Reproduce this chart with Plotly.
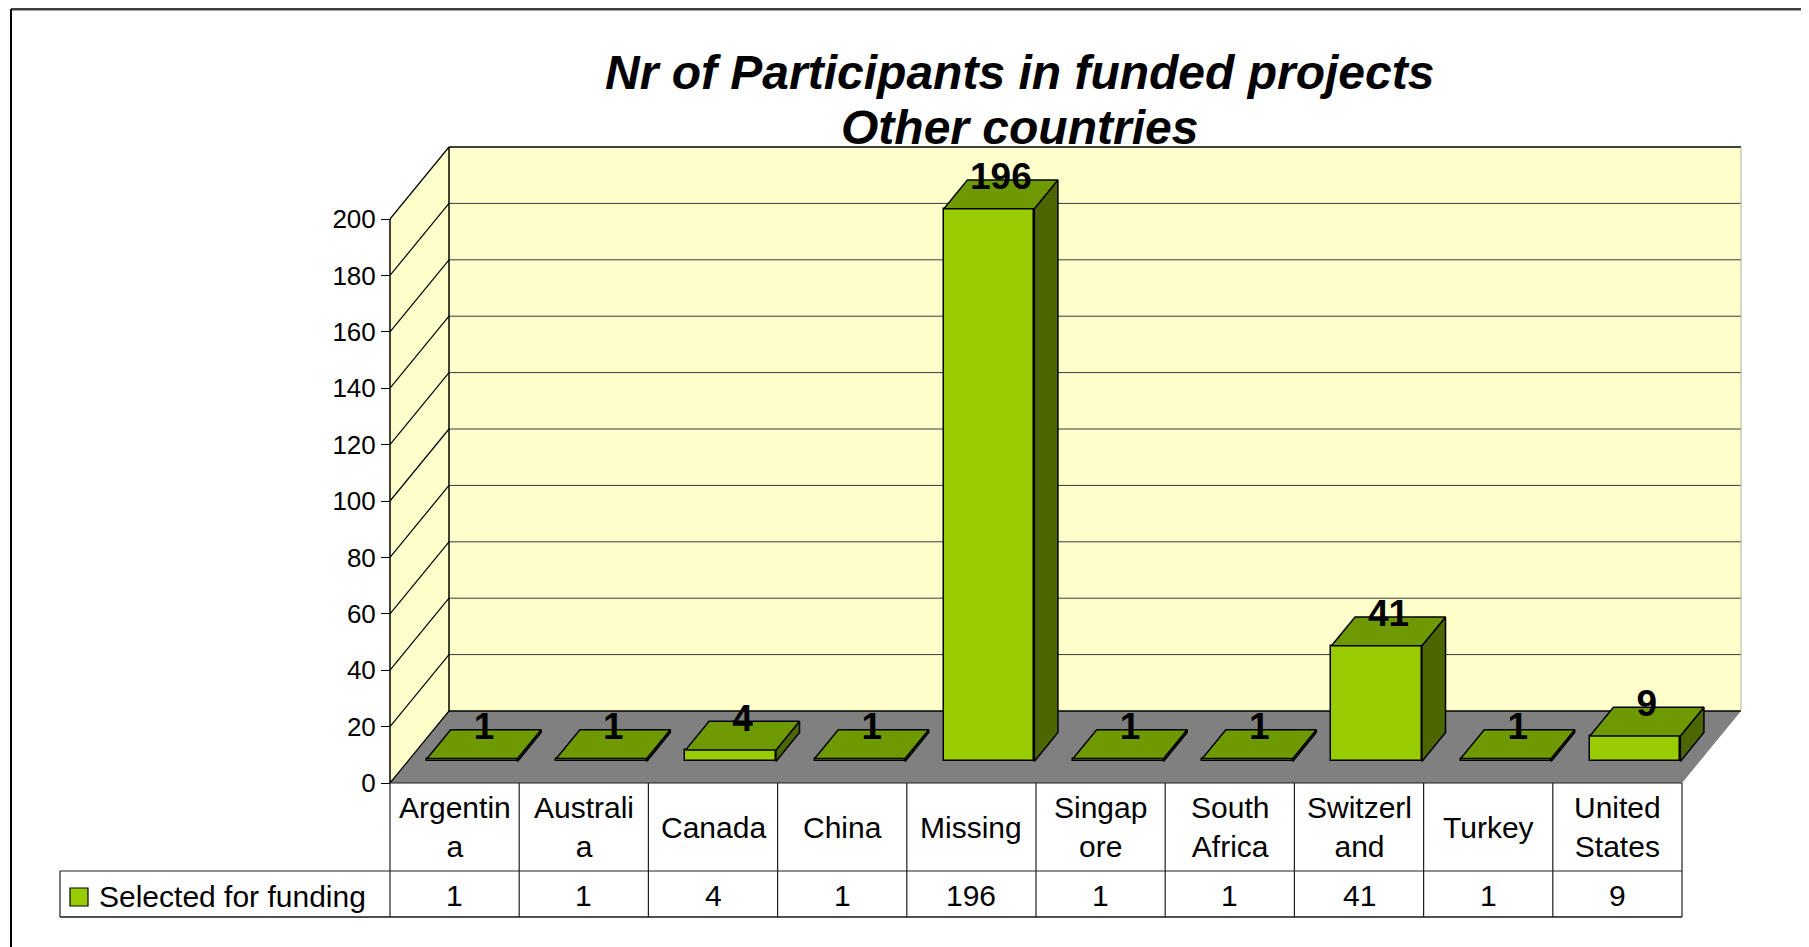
import plotly.graph_objects as go

# ---------------- data ----------------
categories = ["Argentin<br>a", "Australi<br>a", "Canada", "China", "Missing",
              "Singap<br>ore", "South<br>Africa", "Switzerl<br>and", "Turkey", "United<br>States"]
values = [1, 1, 4, 1, 196, 1, 1, 41, 1, 9]
series_name = "Selected for funding"
y_ticks = [0, 20, 40, 60, 80, 100, 120, 140, 160, 180, 200]
title_lines = ["Nr of Participants in funded projects", "Other countries"]

# ---------------- geometry / style ----------------
SCREEN_W, SCREEN_H = 1809, 947
OFF = 8                              # page body margin of the html page
W, H = SCREEN_W - OFF, SCREEN_H - OFF
ORIGIN_X, ORIGIN_Y = 390 - OFF, 783 - OFF   # pixel position of (category edge 0, value 0)
CAT_PX = 129.2                      # pixels per category
UNIT_PX = 2.82                      # pixels per value unit
DEPTH_X_PX, DEPTH_Y_PX = 59, 72     # 3D depth offset of back wall
DX = DEPTH_X_PX / CAT_PX
DY = DEPTH_Y_PX / UNIT_PX
F1, F2 = 0.30, 0.70                 # bar front / back depth fractions
BAR_W = 0.70
n = len(values)
WALL_TOP = max(y_ticks)

FRONT = "#99CC00"
TOP = "#6F9900"
SIDE = "#4C6600"
WALL = "#FFFFCC"
FLOOR = "#808080"
FONT = "Liberation Sans, Arial, sans-serif"

x_range = [-ORIGIN_X / CAT_PX, (W - ORIGIN_X) / CAT_PX]
y_range = [-(H - ORIGIN_Y) / UNIT_PX, ORIGIN_Y / UNIT_PX]


def py(p):
    """screen pixel y -> paper y"""
    return 1 - (p - OFF) / H


def pxp(p):
    """screen pixel x -> paper x"""
    return (p - OFF) / W


shapes = []
# side wall
shapes.append(dict(type="path", xref="x", yref="y", layer="below",
                   path=f"M 0,0 L {DX},{DY} L {DX},{WALL_TOP + DY} L 0,{WALL_TOP} Z",
                   fillcolor=WALL, line=dict(width=0)))
# back wall
shapes.append(dict(type="rect", xref="x", yref="y", layer="below",
                   x0=DX, y0=DY, x1=n + DX, y1=WALL_TOP + DY,
                   fillcolor=WALL, line=dict(width=0)))
# floor
shapes.append(dict(type="path", xref="x", yref="y", layer="below",
                   path=f"M 0,0 L {DX},{DY} L {n + DX},{DY} L {n},0 Z",
                   fillcolor=FLOOR, line=dict(width=0)))
# back wall gridlines
for v in y_ticks[1:-1]:
    shapes.append(dict(type="line", xref="x", yref="y", layer="below",
                       x0=DX, y0=v + DY, x1=n + DX, y1=v + DY,
                       line=dict(color="#3a3a3a", width=1)))
# side wall diagonals
for v in y_ticks:
    shapes.append(dict(type="line", xref="x", yref="y", layer="below",
                       x0=0, y0=v, x1=DX, y1=v + DY,
                       line=dict(color="black", width=1.2)))
# wall / floor edges
edge = dict(color="black", width=1.5)
shapes += [
    dict(type="line", xref="x", yref="y", layer="below", x0=DX, y0=WALL_TOP + DY, x1=n + DX, y1=WALL_TOP + DY, line=edge),
    dict(type="line", xref="x", yref="y", layer="below", x0=DX, y0=DY, x1=DX, y1=WALL_TOP + DY, line=edge),
    dict(type="line", xref="x", yref="y", layer="below", x0=DX, y0=DY, x1=n + DX, y1=DY, line=edge),
    dict(type="line", xref="x", yref="y", layer="below", x0=n + DX, y0=DY, x1=n + DX, y1=WALL_TOP + DY,
         line=dict(color="#b0b0a0", width=1)),
    dict(type="line", xref="x", yref="y", layer="below", x0=0, y0=0, x1=0, y1=WALL_TOP, line=edge),
]

# ---------------- data table ----------------
ROW1_TOP, ROW2_TOP, ROW2_BOT = 783, 871, 917
LEG_LEFT = 60
TABLE_RIGHT = 390 + n * CAT_PX
tline = dict(color="#202020", width=1.2)
shapes.append(dict(type="line", xref="x", yref="paper", x0=0, x1=n, y0=py(ROW1_TOP), y1=py(ROW1_TOP), line=tline))
shapes.append(dict(type="line", xref="paper", yref="paper", x0=pxp(LEG_LEFT), x1=pxp(TABLE_RIGHT),
                   y0=py(ROW2_TOP), y1=py(ROW2_TOP), line=tline))
shapes.append(dict(type="line", xref="paper", yref="paper", x0=pxp(LEG_LEFT), x1=pxp(TABLE_RIGHT),
                   y0=py(ROW2_BOT), y1=py(ROW2_BOT), line=dict(color="#505050", width=2)))
shapes.append(dict(type="line", xref="paper", yref="paper", x0=pxp(LEG_LEFT), x1=pxp(LEG_LEFT),
                   y0=py(ROW2_TOP), y1=py(ROW2_BOT), line=tline))
for k in range(n + 1):
    shapes.append(dict(type="line", xref="x", yref="paper", x0=k, x1=k,
                       y0=py(ROW1_TOP), y1=py(ROW2_BOT), line=tline))
# legend key
shapes.append(dict(type="rect", xref="paper", yref="paper",
                   x0=pxp(70), x1=pxp(88), y0=py(906), y1=py(888),
                   fillcolor=FRONT, line=dict(color="black", width=1.2)))
# outer chart border (top and left)
shapes.append(dict(type="line", xref="paper", yref="paper", x0=pxp(11), x1=1, y0=py(9), y1=py(9),
                   line=dict(color="#404040", width=3)))
shapes.append(dict(type="line", xref="paper", yref="paper", x0=pxp(11), x1=pxp(11), y0=py(9), y1=0,
                   line=dict(color="black", width=2)))

# ---------------- traces ----------------
fig = go.Figure()

side_x, side_y, top_x, top_y = [], [], [], []
for i, v in enumerate(values):
    xl = i + (1 - BAR_W) / 2
    xr = xl + BAR_W
    side_x += [xr + F1 * DX, xr + F2 * DX, xr + F2 * DX, xr + F1 * DX, xr + F1 * DX, None]
    side_y += [F1 * DY, F2 * DY, v + F2 * DY, v + F1 * DY, F1 * DY, None]
    top_x += [xl + F1 * DX, xr + F1 * DX, xr + F2 * DX, xl + F2 * DX, xl + F1 * DX, None]
    top_y += [v + F1 * DY, v + F1 * DY, v + F2 * DY, v + F2 * DY, v + F1 * DY, None]

fig.add_trace(go.Scatter(x=side_x, y=side_y, mode="lines", fill="toself", fillcolor=SIDE,
                         line=dict(color="black", width=1.5), hoverinfo="skip", showlegend=False))
fig.add_trace(go.Scatter(x=top_x, y=top_y, mode="lines", fill="toself", fillcolor=TOP,
                         line=dict(color="black", width=1.5), hoverinfo="skip", showlegend=False))
fig.add_trace(go.Bar(x=[i + 0.5 + F1 * DX for i in range(n)], y=values, base=F1 * DY, width=BAR_W,
                     marker=dict(color=FRONT, line=dict(color="black", width=1.5)),
                     name=series_name, showlegend=False))
fig.add_trace(go.Scatter(x=[i + 0.5 + 0.5 * DX for i in range(n)], y=[v + F2 * DY for v in values],
                         mode="text", text=[str(v) for v in values], textposition="middle center",
                         textfont=dict(family=FONT, size=37, color="black", weight="bold"),
                         hoverinfo="skip", showlegend=False))

# ---------------- annotations ----------------
ann = []
ann.append(dict(text=f"<b><i>{title_lines[0]}</i></b>", x=pxp(1020), y=py(72), xref="paper", yref="paper",
                showarrow=False, xanchor="center", yanchor="middle", font=dict(family=FONT, size=48, color="black")))
ann.append(dict(text=f"<b><i>{title_lines[1]}</i></b>", x=pxp(1020), y=py(127), xref="paper", yref="paper",
                showarrow=False, xanchor="center", yanchor="middle", font=dict(family=FONT, size=48, color="black")))
for i, (c, v) in enumerate(zip(categories, values)):
    ann.append(dict(text=c, x=i + 0.5, y=py((ROW1_TOP + ROW2_TOP) / 2), xref="x", yref="paper",
                    showarrow=False, xanchor="center", yanchor="middle",
                    font=dict(family=FONT, size=30, color="black")))
    ann.append(dict(text=str(v), x=i + 0.5, y=py((ROW2_TOP + ROW2_BOT) / 2 + 1), xref="x", yref="paper",
                    showarrow=False, xanchor="center", yanchor="middle",
                    font=dict(family=FONT, size=30, color="black")))
ann.append(dict(text=series_name, x=pxp(97), y=py(896), xref="paper", yref="paper",
                showarrow=False, xanchor="left", yanchor="middle",
                font=dict(family=FONT, size=30, color="black")))

fig.update_layout(
    width=W, height=H, autosize=False,
    margin=dict(l=0, r=0, t=0, b=0, pad=0),
    paper_bgcolor="white", plot_bgcolor="white",
    showlegend=False,
    xaxis=dict(range=x_range, visible=False, fixedrange=True),
    yaxis=dict(range=y_range, anchor="free", position=(ORIGIN_X) / W, side="left",
               tickmode="array", tickvals=y_ticks, ticktext=[str(t) for t in y_ticks],
               ticks="outside", ticklen=9, tickwidth=1.2, tickcolor="black",
               showgrid=False, zeroline=False, showline=False,
               tickfont=dict(family=FONT, size=26, color="black"), fixedrange=True),
    shapes=shapes,
    annotations=ann,
    bargap=0,
)

fig.write_html("out.html")
